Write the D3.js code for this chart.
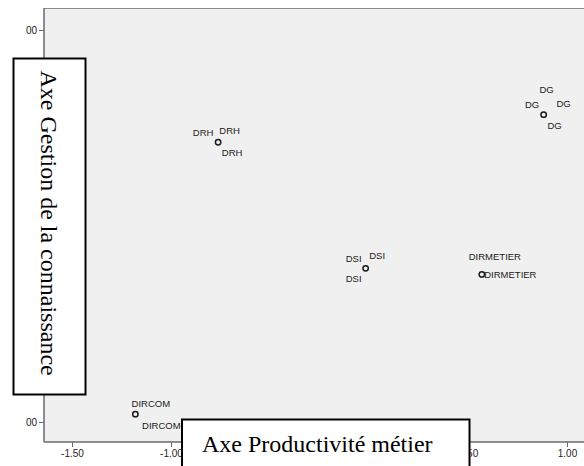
<!DOCTYPE html>
<html>
<head>
<meta charset="utf-8">
<script src="https://cdn.jsdelivr.net/npm/d3@7/dist/d3.min.js"></script>
<style>
html,body{margin:0;padding:0;background:#fff;}
svg{display:block;}
</style>
</head>
<body>
<svg id="chart" width="584" height="466"></svg>
<script>
// ---- data ----
const groups = ["DRH", "DSI", "DIRMETIER", "DG", "DIRCOM"];
const xValues = [-0.762, -0.017, 0.570, 0.882, -1.180];
const yValues = [0.427, -0.216, -0.247, 0.568, -0.960];
// repeated labels drawn around each point (several cases share the same coordinates)
const labelCounts = [3, 3, 2, 4, 2];
const xTickValues = [-1.5, -1.0, -0.5, 0.0, 0.5, 1.0];
// labels of -0.50 and 0.00 are hidden under the title box in the reference
const xTickLabels = ["-1.50", "-1.00", "", "", "0.50", "1.00"];
const yTickValues = [-1.0, 0.0, 1.0];
const yTickLabels = ["00", "", "00"];
const xTitle = "Axe Productivité métier";
const yTitle = "Axe Gestion de la connaissance";

// ---- layout (label placement around a point, text centre offsets) ----
const labelOffsets = [
  [[-15, -10], [11.5, -12], [14, 10]],
  [[-12, -10], [11.5, -12.5], [-12, 10]],
  [[13, -18], [28.5, 0]],
  [[3, -25], [-11.5, -10], [20, -11], [11, 11]],
  [[15.5, -11], [26, 11]]
];

const svg = d3.select("#chart");
const plot = {left: 44, top: 8, right: 584, bottom: 442};

const x = d3.scaleLinear().domain([-1.5, 1.0]).range([72, 567]);
const y = d3.scaleLinear().domain([-1.0, 1.0]).range([422, 30]);

// plot background
svg.append("rect")
  .attr("x", plot.left).attr("y", plot.top)
  .attr("width", plot.right - plot.left).attr("height", plot.bottom - plot.top)
  .attr("fill", "#f0f0f0");

// top border
svg.append("line")
  .attr("x1", plot.left).attr("x2", plot.right)
  .attr("y1", plot.top + 0.5).attr("y2", plot.top + 0.5)
  .attr("stroke", "#8a8a8a").attr("stroke-width", 1);

// x axis
const xAxis = d3.axisBottom(x)
  .tickValues(xTickValues)
  .tickFormat((d, i) => xTickLabels[i])
  .tickSize(5).tickSizeOuter(0).tickPadding(3);
const gx = svg.append("g").attr("transform", `translate(0,${plot.bottom})`).call(xAxis);
gx.select(".domain").remove();
gx.selectAll(".tick line").attr("stroke", "#6a6a6a").attr("stroke-width", 1);
gx.selectAll(".tick text").attr("fill", "#1e1e1e")
  .style("font-family", "'Liberation Sans', Arial, sans-serif").style("font-size", "10px");
svg.append("line")
  .attr("x1", plot.left).attr("x2", plot.right)
  .attr("y1", plot.bottom).attr("y2", plot.bottom)
  .attr("stroke", "#6a6a6a").attr("stroke-width", 1.5);

// y axis
const yAxis = d3.axisLeft(y)
  .tickValues(yTickValues)
  .tickFormat((d, i) => yTickLabels[i])
  .tickSize(5).tickSizeOuter(0).tickPadding(2);
const gy = svg.append("g").attr("transform", `translate(${plot.left},0)`).call(yAxis);
gy.select(".domain").remove();
gy.selectAll(".tick line").attr("stroke", "#6a6a6a").attr("stroke-width", 1);
gy.selectAll(".tick text").attr("fill", "#1e1e1e")
  .style("font-family", "'Liberation Sans', Arial, sans-serif").style("font-size", "10px");
svg.append("line")
  .attr("x1", plot.left).attr("x2", plot.left)
  .attr("y1", plot.top).attr("y2", plot.bottom)
  .attr("stroke", "#6a6a6a").attr("stroke-width", 1.5);

// points
const pts = groups.map((g, i) => ({name: g, x: xValues[i], y: yValues[i], n: labelCounts[i], i}));
svg.append("g").selectAll("circle").data(pts).join("circle")
  .attr("cx", d => x(d.x)).attr("cy", d => y(d.y))
  .attr("r", 2.7)
  .attr("fill", "none").attr("stroke", "#1a1a1a").attr("stroke-width", 1.5);

// labels
const lab = [];
pts.forEach(p => {
  for (let k = 0; k < p.n; k++) {
    const off = labelOffsets[p.i][k];
    lab.push({text: p.name, cx: x(p.x) + off[0], cy: y(p.y) + off[1]});
  }
});
svg.append("g").selectAll("text").data(lab).join("text")
  .attr("x", d => d.cx).attr("y", d => d.cy)
  .attr("text-anchor", "middle").attr("dominant-baseline", "central")
  .attr("fill", "#1a1a1a")
  .style("font-family", "'Liberation Sans', Arial, sans-serif").style("font-size", "9.5px")
  .text(d => d.text);

// title boxes
svg.append("rect")
  .attr("x", 13.5).attr("y", 58.5).attr("width", 72).attr("height", 336)
  .attr("fill", "#fff").attr("stroke", "#000").attr("stroke-width", 2);
svg.append("text")
  .attr("transform", "translate(41,70.5) rotate(90)")
  .attr("text-anchor", "start")
  .attr("fill", "#000")
  .style("font-family", "'Liberation Serif', 'Times New Roman', serif").style("font-size", "24px")
  .text(yTitle);

svg.append("rect")
  .attr("x", 182).attr("y", 419.5).attr("width", 287.5).attr("height", 60)
  .attr("fill", "#fff").attr("stroke", "#000").attr("stroke-width", 2);
svg.append("text")
  .attr("x", 202).attr("y", 451.5)
  .attr("text-anchor", "start")
  .attr("fill", "#000")
  .style("font-family", "'Liberation Serif', 'Times New Roman', serif").style("font-size", "24px")
  .text(xTitle);
</script>
</body>
</html>
